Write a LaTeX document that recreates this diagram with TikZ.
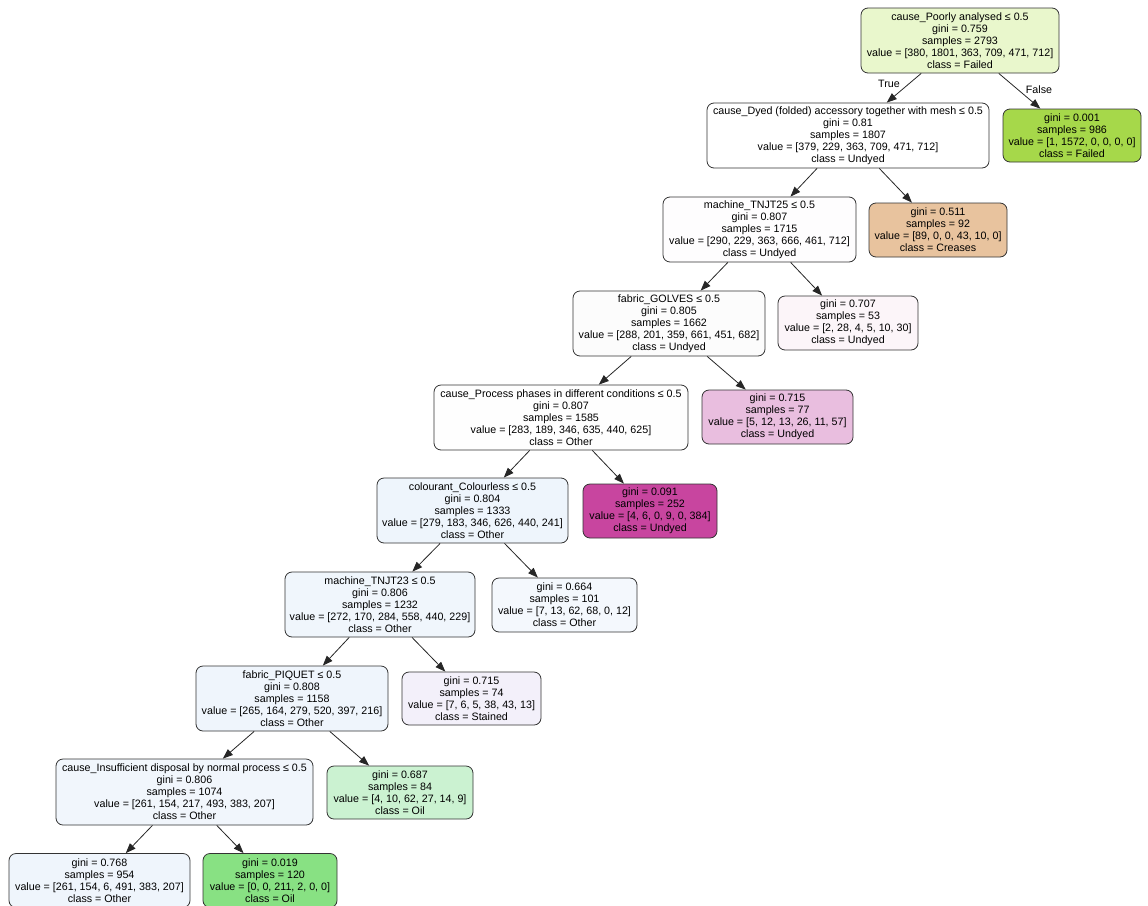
\documentclass[tikz,border=0pt]{standalone}
\usepackage{fontspec}
\setmainfont{Liberation Sans}
\usetikzlibrary{arrows.meta}
\definecolor{cRoot}{HTML}{E9F7CC}
\definecolor{cFailed}{HTML}{A6D84A}
\definecolor{cCreases}{HTML}{E8C39E}
\definecolor{cTNJTa}{HTML}{FEFDFE}
\definecolor{cGolves}{HTML}{FCFCFC}
\definecolor{cLeafA}{HTML}{FCF5F9}
\definecolor{cProcess}{HTML}{FEFEFE}
\definecolor{cLeafB}{HTML}{E9BEDF}
\definecolor{cColour}{HTML}{EEF5FC}
\definecolor{cLeafC}{HTML}{C8459F}
\definecolor{cTNJTb}{HTML}{F0F6FC}
\definecolor{cLeafD}{HTML}{F4F8FD}
\definecolor{cPiquet}{HTML}{EFF5FC}
\definecolor{cStained}{HTML}{F3F0FA}
\definecolor{cInsuff}{HTML}{F1F6FC}
\definecolor{cLeafE}{HTML}{CBF2D1}
\definecolor{cLeafF}{HTML}{EFF5FC}
\definecolor{cLeafG}{HTML}{88E183}
\tikzset{
  treebox/.style={draw=black!80, line width=0.8pt, rounded corners=7pt, align=center,
    inner sep=0pt, font=\fontsize{10.7}{12}\selectfont},
  edgelabel/.style={font=\fontsize{10.7}{12}\selectfont, inner sep=0pt},
  conn/.style={draw=black!85, line width=0.8pt, -{Triangle[length=10pt,width=7.5pt]}}
}
\begin{document}
\begin{tikzpicture}[x=1pt,y=-1pt]
\useasboundingbox (0,0) rectangle (1148,905);
\node[treebox, fill=cRoot, minimum width=198pt, minimum height=65pt] (n0) at (960,40.5)
  {cause\_Poorly analysed ≤ 0.5\\gini = 0.759\\samples = 2793\\value = [380, 1801, 363, 709, 471, 712]\\class = Failed};
\node[treebox, fill=white, minimum width=282pt, minimum height=65pt] (n1) at (848,135.5)
  {cause\_Dyed (folded) accessory together with mesh ≤ 0.5\\gini = 0.81\\samples = 1807\\value = [379, 229, 363, 709, 471, 712]\\class = Undyed};
\node[treebox, fill=cFailed, minimum width=138pt, minimum height=53pt] (n2) at (1072,135.5)
  {gini = 0.001\\samples = 986\\value = [1, 1572, 0, 0, 0, 0]\\class = Failed};
\node[treebox, fill=cTNJTa, minimum width=193pt, minimum height=65pt] (n3) at (759.5,229.5)
  {machine\_TNJT25 ≤ 0.5\\gini = 0.807\\samples = 1715\\value = [290, 229, 363, 666, 461, 712]\\class = Undyed};
\node[treebox, fill=cCreases, minimum width=138pt, minimum height=54pt] (n4) at (938,230)
  {gini = 0.511\\samples = 92\\value = [89, 0, 0, 43, 10, 0]\\class = Creases};
\node[treebox, fill=cGolves, minimum width=192pt, minimum height=65pt] (n5) at (669,323.5)
  {fabric\_GOLVES ≤ 0.5\\gini = 0.805\\samples = 1662\\value = [288, 201, 359, 661, 451, 682]\\class = Undyed};
\node[treebox, fill=cLeafA, minimum width=140pt, minimum height=54pt] (n6) at (848,323)
  {gini = 0.707\\samples = 53\\value = [2, 28, 4, 5, 10, 30]\\class = Undyed};
\node[treebox, fill=cProcess, minimum width=254pt, minimum height=65pt] (n7) at (561,417.5)
  {cause\_Process phases in different conditions ≤ 0.5\\gini = 0.807\\samples = 1585\\value = [283, 189, 346, 635, 440, 625]\\class = Other};
\node[treebox, fill=cLeafB, minimum width=151pt, minimum height=54pt] (n8) at (777.5,417)
  {gini = 0.715\\samples = 77\\value = [5, 12, 13, 26, 11, 57]\\class = Undyed};
\node[treebox, fill=cColour, minimum width=191pt, minimum height=65pt] (n9) at (472.5,510.5)
  {colourant\_Colourless ≤ 0.5\\gini = 0.804\\samples = 1333\\value = [279, 183, 346, 626, 440, 241]\\class = Other};
\node[treebox, fill=cLeafC, minimum width=134pt, minimum height=54pt] (n10) at (650,511)
  {gini = 0.091\\samples = 252\\value = [4, 6, 0, 9, 0, 384]\\class = Undyed};
\node[treebox, fill=cTNJTb, minimum width=190pt, minimum height=65pt] (n11) at (380,604.5)
  {machine\_TNJT23 ≤ 0.5\\gini = 0.806\\samples = 1232\\value = [272, 170, 284, 558, 440, 229]\\class = Other};
\node[treebox, fill=cLeafD, minimum width=145pt, minimum height=54pt] (n12) at (564.5,605)
  {gini = 0.664\\samples = 101\\value = [7, 13, 62, 68, 0, 12]\\class = Other};
\node[treebox, fill=cPiquet, minimum width=192pt, minimum height=65pt] (n13) at (292,698.5)
  {fabric\_PIQUET ≤ 0.5\\gini = 0.808\\samples = 1158\\value = [265, 164, 279, 520, 397, 216]\\class = Other};
\node[treebox, fill=cStained, minimum width=139pt, minimum height=53pt] (n14) at (471.5,698.5)
  {gini = 0.715\\samples = 74\\value = [7, 6, 5, 38, 43, 13]\\class = Stained};
\node[treebox, fill=cInsuff, minimum width=257pt, minimum height=66pt] (n15) at (184.5,792)
  {cause\_Insufficient disposal by normal process ≤ 0.5\\gini = 0.806\\samples = 1074\\value = [261, 154, 217, 493, 383, 207]\\class = Other};
\node[treebox, fill=cLeafE, minimum width=146pt, minimum height=53pt] (n16) at (400,792.5)
  {gini = 0.687\\samples = 84\\value = [4, 10, 62, 27, 14, 9]\\class = Oil};
\node[treebox, fill=cLeafF, minimum width=181pt, minimum height=54pt] (n17) at (99.5,880.5)
  {gini = 0.768\\samples = 954\\value = [261, 154, 6, 491, 383, 207]\\class = Other};
\node[treebox, fill=cLeafG, minimum width=134pt, minimum height=54pt] (n18) at (270,880.5)
  {gini = 0.019\\samples = 120\\value = [0, 0, 211, 2, 0, 0]\\class = Oil};
\draw[conn] (n0) -- (n1);
\draw[conn] (n0) -- (n2);
\draw[conn] (n1) -- (n3);
\draw[conn] (n1) -- (n4);
\draw[conn] (n3) -- (n5);
\draw[conn] (n3) -- (n6);
\draw[conn] (n5) -- (n7);
\draw[conn] (n5) -- (n8);
\draw[conn] (n7) -- (n9);
\draw[conn] (n7) -- (n10);
\draw[conn] (n9) -- (n11);
\draw[conn] (n9) -- (n12);
\draw[conn] (n11) -- (n13);
\draw[conn] (n11) -- (n14);
\draw[conn] (n13) -- (n15);
\draw[conn] (n13) -- (n16);
\draw[conn] (n15) -- (n17);
\draw[conn] (n15) -- (n18);
\node[edgelabel] (lt) at (889,84) {True};
\node[edgelabel] (lf) at (1039,90) {False};
\end{tikzpicture}
\end{document}
